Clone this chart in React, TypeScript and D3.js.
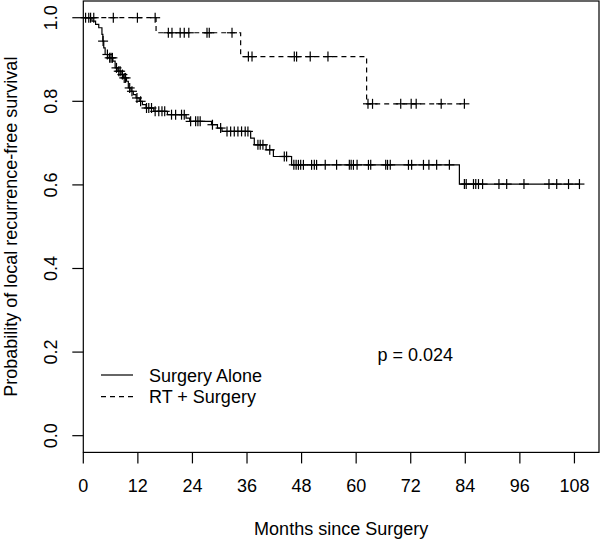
import React from "react";
import * as d3 from "d3";

// ---- data ----
const xTicks = [0, 12, 24, 36, 48, 60, 72, 84, 96, 108];
const yTicks = [0, 0.2, 0.4, 0.6, 0.8, 1.0];

// Surgery Alone: [month, survival after event]
const surgeryAloneSteps: [number, number][] = [
  [0, 1], [1.9, 0.992], [2.7, 0.984], [3.4, 0.976], [4.1, 0.96], [4.3, 0.944],
  [4.5, 0.928], [4.8, 0.912], [5.7, 0.904], [6.5, 0.896], [7.0, 0.88], [7.6, 0.872],
  [8.3, 0.864], [8.8, 0.856], [9.5, 0.848], [9.9, 0.832], [10.5, 0.824], [11.0, 0.816],
  [11.6, 0.808], [12.3, 0.8], [13.0, 0.792], [13.8, 0.784], [15.5, 0.776], [18.5, 0.768],
  [22.6, 0.76], [23.4, 0.752], [28.2, 0.744], [29.5, 0.736], [30.5, 0.728], [36.8, 0.712],
  [37.6, 0.696], [40.2, 0.684], [41.8, 0.668], [45.8, 0.648], [82.7, 0.602],
];
const surgeryAloneCensor = [
  1.2, 1.6, 4.35, 5.3, 5.8, 6.1, 6.4, 7.3, 7.8, 8.1, 8.6, 9.0, 9.3, 10.2, 10.7, 11.8,
  12.6, 13.9, 14.4, 15.0, 15.8, 16.6, 17.3, 17.9, 19.4, 20.3, 21.6, 22.2, 23.6, 24.7,
  25.2, 25.7, 28.4, 30.2, 31.6, 32.4, 33.2, 34.0, 34.8, 35.6, 36.2, 38.4, 38.9, 39.5,
  41.0, 44.2, 44.7, 46.3, 46.8, 47.3, 47.8, 48.4, 50.2, 50.8, 51.3, 53.2, 55.7, 58.5,
  58.9, 59.4, 60.2, 62.7, 63.2, 66.5, 66.9, 67.5, 71.5, 72.2, 74.8, 76.0, 77.7, 80.5,
  83.8, 84.2, 85.8, 86.3, 86.9, 87.8, 91.4, 93.1, 96.9, 102.4, 104.1, 106.7, 109.1,
];

// RT + Surgery
const rtSurgerySteps: [number, number][] = [
  [0, 1], [16.0, 0.964], [34.6, 0.907], [62.3, 0.794],
];
const rtSurgeryCensor = [
  0.5, 2.3, 6.6, 11.9, 15.8, 18.7, 19.5, 21.3, 22.2, 23.2, 27.2, 27.7, 32.7, 36.3,
  37.1, 46.4, 46.9, 49.9, 53.8, 62.6, 63.6, 69.8, 72.1, 73.2, 78.7, 83.8,
];

const legendLabels = ["Surgery Alone", "RT + Surgery"];
const pValueText = "p = 0.024";

// ---- layout ----
const W = 601;
const H = 539;
const FONT = "'Liberation Sans', Arial, sans-serif";
const FS = 18;

function survAt(steps: [number, number][], t: number) {
  let s = 1;
  for (const [tt, v] of steps) if (tt <= t) s = v;
  return s;
}

export default function App() {
  const x = d3.scaleLinear().domain([0, 113.4]).range([83.3, 599]);
  const y = d3.scaleLinear().domain([-0.04, 1.04]).range([452.4, 1.0]);
  const line = d3
    .line<[number, number]>()
    .x((d) => x(d[0]))
    .y((d) => y(d[1]))
    .curve(d3.curveStepAfter);

  const series = [
    { steps: surgeryAloneSteps, censor: surgeryAloneCensor, dash: undefined as string | undefined },
    { steps: rtSurgerySteps, censor: rtSurgeryCensor, dash: "5,4" },
  ];

  const cs = 5; // cross half size
  const stroke = "#000";
  const lw = 1.2;

  return (
    <svg
      width={W}
      height={H}
      style={{ position: "absolute", left: 0, top: 0, background: "#fff" }}
      fontFamily={FONT}
    >
      <rect x={0} y={0} width={W} height={H} fill="#fff" />
      {series.map((s, i) => {
        const end = Math.max(...s.censor, s.steps[s.steps.length - 1][0]);
        const pts: [number, number][] = [...s.steps, [end, s.steps[s.steps.length - 1][1]]];
        return (
          <g key={i}>
            <path d={line(pts) || ""} fill="none" stroke={stroke} strokeWidth={lw} strokeDasharray={s.dash} />
            {s.censor.map((t, j) => {
              const cx = x(t);
              const cy = y(survAt(s.steps, t));
              return (
                <g key={j} stroke={stroke} strokeWidth={lw}>
                  <line x1={cx - cs} x2={cx + cs} y1={cy} y2={cy} />
                  <line x1={cx} x2={cx} y1={cy - cs} y2={cy + cs} />
                </g>
              );
            })}
          </g>
        );
      })}

      {/* box */}
      <rect x={x(0)} y={y(1.04)} width={x(113.4) - x(0)} height={y(-0.04) - y(1.04)} fill="none" stroke={stroke} strokeWidth={1.2} />

      {/* x axis */}
      <g>
        {xTicks.map((t) => (
          <g key={t}>
            <line x1={x(t)} x2={x(t)} y1={y(-0.04)} y2={y(-0.04) + 11} stroke={stroke} strokeWidth={1.2} />
            <text x={x(t)} y={491.5} textAnchor="middle" fontSize={FS} fill="#000">
              {t}
            </text>
          </g>
        ))}
        <text x={(x(0) + x(113.4)) / 2} y={534.5} textAnchor="middle" fontSize={FS} fill="#000">
          Months since Surgery
        </text>
      </g>

      {/* y axis */}
      <g>
        {yTicks.map((t) => (
          <g key={t}>
            <line x1={x(0) - 11} x2={x(0)} y1={y(t)} y2={y(t)} stroke={stroke} strokeWidth={1.2} />
            <text
              transform={`translate(57,${y(t)}) rotate(-90)`}
              textAnchor="middle"
              fontSize={FS}
              fill="#000"
            >
              {t.toFixed(1)}
            </text>
          </g>
        ))}
        <text
          transform={`translate(16.5,${(y(1.04) + y(-0.04)) / 2}) rotate(-90)`}
          textAnchor="middle"
          fontSize={FS}
          fill="#000"
        >
          Probability of local recurrence-free survival
        </text>
      </g>

      {/* p-value */}
      <text x={x(73)} y={361} textAnchor="middle" fontSize={FS} fill="#000">
        {pValueText}
      </text>

      {/* legend */}
      {legendLabels.map((lab, i) => {
        const ly = 375 + i * 21.6;
        return (
          <g key={lab}>
            <line x1={101} x2={133} y1={ly} y2={ly} stroke={stroke} strokeWidth={lw} strokeDasharray={i === 1 ? "5,4" : undefined} />
            <text x={149} y={ly + 6.5} fontSize={FS} fill="#000">
              {lab}
            </text>
          </g>
        );
      })}
    </svg>
  );
}
